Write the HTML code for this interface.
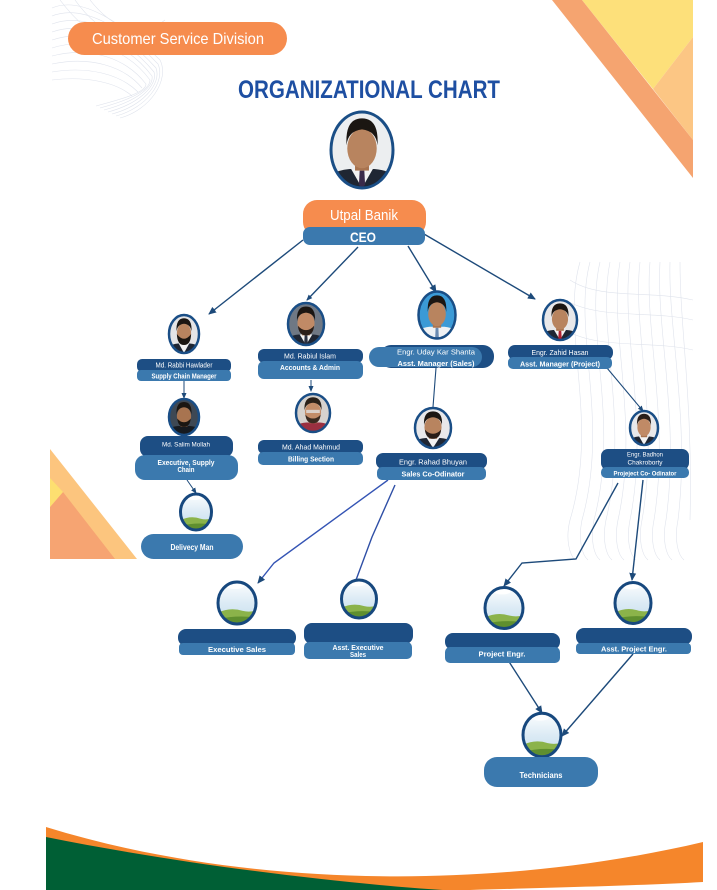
<!DOCTYPE html>
<html><head><meta charset="utf-8"><style>
html,body{margin:0;padding:0;background:#fff;}
body{width:717px;height:890px;overflow:hidden;}
svg{display:block;font-family:"Liberation Sans",Arial,sans-serif;}
</style></head><body>
<svg width="717" height="890" viewBox="0 0 717 890" xmlns="http://www.w3.org/2000/svg">
<defs>
  <clipPath id="pc"><ellipse cx="0" cy="0" rx="20" ry="24"/></clipPath>
  <linearGradient id="sky" x1="0" y1="0" x2="0" y2="1">
    <stop offset="0" stop-color="#ffffff"/><stop offset="0.5" stop-color="#dcebf5"/><stop offset="1" stop-color="#c2dcec"/>
  </linearGradient>
  <marker id="ah" markerUnits="userSpaceOnUse" markerWidth="8" markerHeight="8" refX="7" refY="4" orient="auto">
    <path d="M0,0.5 L8,4 L0,7.5 Z" fill="#1d4a7a"/>
  </marker>
  <marker id="ahs" markerUnits="userSpaceOnUse" markerWidth="6" markerHeight="6" refX="5" refY="3" orient="auto">
    <path d="M0,0.5 L6,3 L0,5.5 Z" fill="#1d4a7a"/>
  </marker>
</defs>

<!-- faint wireframes -->
<g fill="none" stroke="#dfe3ec" stroke-width="0.6">
  <path d="M52,8 C80,-4 120,20 160,60 C170,80 150,110 120,118"/>
  <path d="M52,16 C82,4 122,26 158,64 C166,82 146,108 116,116"/>
  <path d="M52,24 C84,12 124,32 156,68 C162,84 142,106 112,114"/>
  <path d="M52,32 C86,20 126,38 154,72 C158,86 138,104 108,112"/>
  <path d="M52,40 C88,28 128,44 152,76 C154,88 134,102 104,110"/>
  <path d="M52,48 C90,36 128,50 150,80 C150,90 130,100 100,108"/>
  <path d="M52,56 C90,46 126,58 146,84 C146,92 126,98 96,106"/>
  <path d="M52,64 C90,56 124,66 142,88"/>
  <path d="M52,72 C88,66 120,74 138,92"/>
  <path d="M52,80 C86,76 116,82 132,96"/>
  <path d="M60,0 C90,40 130,60 165,40"/>
  <path d="M75,0 C100,35 135,50 165,30"/>
  <path d="M90,0 C112,28 140,40 165,20"/>
  <path d="M580,262 C560,330 600,420 570,520 C565,540 570,555 575,560"/>
  <path d="M590,262 C572,330 610,420 582,520 C578,540 582,555 588,560"/>
  <path d="M600,262 C584,330 620,420 594,520 C590,540 594,555 600,560"/>
  <path d="M610,262 C596,330 630,420 606,520 C602,540 606,555 612,560"/>
  <path d="M620,262 C608,330 640,420 618,520 C614,540 618,555 624,560"/>
  <path d="M630,262 C620,330 650,420 630,520 C626,540 630,555 636,560"/>
  <path d="M640,262 C632,330 660,420 642,520 C638,540 642,555 648,560"/>
  <path d="M650,262 C644,330 670,420 654,520 C650,540 654,555 660,560"/>
  <path d="M660,262 C656,330 680,420 666,520 C662,540 666,555 672,560"/>
  <path d="M670,262 C668,330 690,420 678,520 C674,540 678,555 684,560"/>
  <path d="M680,262 C680,330 693,400 690,520"/>
  <path d="M570,280 C600,300 650,290 693,300"/>
  <path d="M565,300 C600,320 650,310 693,320"/>
  <path d="M565,330 C600,350 650,340 693,350"/>
</g>

<!-- top right decoration -->
<polygon points="582,0 693,0 693,37 653,89" fill="#FDE07A"/>
<polygon points="653,89 693,37 693,140" fill="#FCC684"/>
<polygon points="552,0 582,0 693,140 693,178" fill="#F5A470"/>

<!-- left triangle decoration -->
<polygon points="50,449 137,559 50,559" fill="#FCC57E"/>
<polygon points="50,507 63,492 115,559 50,559" fill="#F6A472"/>
<polygon points="50,478 63,492 50,507" fill="#FDDF70"/>

<!-- bottom wave -->
<path d="M46,827 C250,890 500,890 703,842 L703,890 L46,890 Z" fill="#F5862B"/>
<path d="M470,890 C580,887 650,885 703,882 L703,890 Z" fill="#ffffff"/>
<path d="M46,837 C200,868 380,888 480,892 L46,892 Z" fill="#005F35"/>

<!-- header pill -->
<rect x="68" y="22" width="219" height="33" rx="16.5" fill="#F68C4E"/>
<text x="178" y="44" text-anchor="middle" font-size="16" fill="#fff" textLength="172" lengthAdjust="spacingAndGlyphs">Customer Service Division</text>

<!-- title -->
<text x="369" y="98" text-anchor="middle" font-size="25" font-weight="bold" fill="#1E4FA2" textLength="262" lengthAdjust="spacingAndGlyphs">ORGANIZATIONAL CHART</text>

<!-- connectors -->
<g stroke="#1d4a7a" stroke-width="1.4" fill="none">
  <line x1="303" y1="240" x2="209" y2="314" marker-end="url(#ah)"/>
  <line x1="358" y1="247" x2="307" y2="300" marker-end="url(#ahs)"/>
  <line x1="408" y1="246" x2="436" y2="292" marker-end="url(#ah)"/>
  <line x1="424" y1="234" x2="535" y2="299" marker-end="url(#ah)"/>
  <line x1="184" y1="381" x2="184" y2="398" stroke-width="1" marker-end="url(#ahs)"/>
  <line x1="311" y1="380" x2="311" y2="391" stroke-width="1" marker-end="url(#ahs)"/>
  <line x1="436" y1="368" x2="433" y2="407" stroke-width="1.1"/>
  <line x1="607" y1="368" x2="643" y2="411" stroke-width="1.1" marker-end="url(#ahs)"/>
  <line x1="187" y1="480" x2="196" y2="493" stroke-width="1" marker-end="url(#ahs)"/>
  <polyline points="388,480 274,563 258,583" stroke="#3454b4" marker-end="url(#ah)"/>
  <polyline points="395,485 372,537 356,580" stroke="#2f4fa6"/>
  <polyline points="618,483 576,559 522,563 504,586" marker-end="url(#ah)"/>
  <line x1="643" y1="480" x2="632" y2="580" marker-end="url(#ah)"/>
  <line x1="506" y1="657" x2="542" y2="713" marker-end="url(#ah)"/>
  <line x1="633" y1="654" x2="562" y2="736" marker-end="url(#ah)"/>
</g>

<!-- CEO portrait -->
<g transform="translate(362,150) scale(1.55,1.583)" clip-path="url(#pc)">
  <rect x="-22" y="-26" width="44" height="52" fill="#eceef0"/>
  <path d="M-24,26 L-24,20 Q-20,13 -8,12 L8,12 Q20,13 24,20 L24,26Z" fill="#1f2633"/>
  <path d="M-7,12 L0,24 L7,12Z" fill="#f2f2f2"/>
  <path d="M-1.5,13 L1.5,13 L2,22 L0,24 L-2,22Z" fill="#3a2a4a"/>
  <rect x="-4.5" y="6" width="9" height="7" fill="#a8734f"/>
  <ellipse cx="0" cy="-1" rx="9.5" ry="12.5" fill="#b8845f"/>
  <path d="M-10,-3 Q-11,-20 0,-20 Q11,-20 10,-3 Q9,-12 0,-13 Q-9,-12 -10,-3Z" fill="#1b1612"/>
</g>
<ellipse cx="362" cy="150" rx="31" ry="38" fill="none" stroke="#1a4e86" stroke-width="3"/>

<!-- CEO box -->
<rect x="303" y="200" width="123" height="36" rx="14" fill="#F68C4E"/>
<rect x="303" y="227" width="122" height="18" rx="7" fill="#3B79AE"/>
<text x="364" y="220" text-anchor="middle" font-size="15" fill="#fff" textLength="68" lengthAdjust="spacingAndGlyphs">Utpal Banik</text>
<text x="363" y="242" text-anchor="middle" font-size="14" font-weight="bold" fill="#fff" textLength="26" lengthAdjust="spacingAndGlyphs">CEO</text>

<!-- portraits row -->
<!-- A Rabbi -->
<g transform="translate(184,334) scale(0.75,0.79)" clip-path="url(#pc)">
  <rect x="-22" y="-26" width="44" height="52" fill="#e4e4e6"/>
  <path d="M-24,26 L-24,20 Q-20,13 -8,12 L8,12 Q20,13 24,20 L24,26Z" fill="#1f2633"/>
  <path d="M-7,12 L0,24 L7,12Z" fill="#f2f2f2"/>
  <ellipse cx="0" cy="-1" rx="9.5" ry="12.5" fill="#b8845f"/>
  <path d="M-9.5,0 Q-9,14 0,14 Q9,14 9.5,0 Q5,6 0,6 Q-5,6 -9.5,0Z" fill="#1b1612"/>
  <path d="M-10,-3 Q-11,-20 0,-20 Q11,-20 10,-3 Q9,-12 0,-13 Q-9,-12 -10,-3Z" fill="#1b1612"/>
</g>
<ellipse cx="184" cy="334" rx="15" ry="19" fill="none" stroke="#1a4e86" stroke-width="2.5"/>

<!-- B Rabiul -->
<g transform="translate(306,324) scale(0.9,0.875)" clip-path="url(#pc)">
  <rect x="-22" y="-26" width="44" height="52" fill="#6f7884"/>
  <path d="M-24,26 L-24,20 Q-20,13 -8,12 L8,12 Q20,13 24,20 L24,26Z" fill="#1f2633"/>
  <path d="M-7,12 L0,24 L7,12Z" fill="#f2f2f2"/>
  <path d="M-1.5,13 L1.5,13 L2,22 L0,24 L-2,22Z" fill="#2a3040"/>
  <rect x="-4.5" y="6" width="9" height="7" fill="#a8734f"/>
  <ellipse cx="0" cy="-1" rx="9.5" ry="12.5" fill="#c08a66"/>
  <path d="M-9,2 Q-8,13 0,13 Q8,13 9,2 Q5,7 0,7 Q-5,7 -9,2Z" fill="#2a1e18"/>
  <path d="M-10,-3 Q-11,-20 0,-20 Q11,-20 10,-3 Q9,-12 0,-13 Q-9,-12 -10,-3Z" fill="#1b1612"/>
</g>
<ellipse cx="306" cy="324" rx="18" ry="21" fill="none" stroke="#1a4e86" stroke-width="2.5"/>

<!-- C Salim -->
<g transform="translate(184,417) scale(0.75,0.75)" clip-path="url(#pc)">
  <rect x="-22" y="-26" width="44" height="52" fill="#3e4854"/>
  <path d="M-24,26 L-24,20 Q-20,13 -8,12 L8,12 Q20,13 24,20 L24,26Z" fill="#161a20"/>
  <rect x="-4.5" y="6" width="9" height="7" fill="#8e5f40"/>
  <ellipse cx="0" cy="-1" rx="9.5" ry="12.5" fill="#a87450"/>
  <path d="M-9,2 Q-8,13 0,13 Q8,13 9,2 Q5,7 0,7 Q-5,7 -9,2Z" fill="#1b1612"/>
  <path d="M-10,-3 Q-11,-20 0,-20 Q11,-20 10,-3 Q9,-12 0,-13 Q-9,-12 -10,-3Z" fill="#1b1612"/>
</g>
<ellipse cx="184" cy="417" rx="15" ry="18" fill="none" stroke="#1a4e86" stroke-width="2.5"/>

<!-- D Ahad -->
<g transform="translate(313,413) scale(0.85,0.79)" clip-path="url(#pc)">
  <rect x="-22" y="-26" width="44" height="52" fill="#d6d2ce"/>
  <path d="M-24,26 L-24,20 Q-20,13 -8,12 L8,12 Q20,13 24,20 L24,26Z" fill="#9a3040"/>
  <rect x="-4.5" y="6" width="9" height="7" fill="#a8734f"/>
  <ellipse cx="0" cy="-1" rx="9.5" ry="12.5" fill="#c28c68"/>
  <rect x="-8" y="-4" width="16" height="4" fill="#e0e0e0" opacity="0.8"/>
  <path d="M-9,2 Q-8,13 0,13 Q8,13 9,2 Q5,7 0,7 Q-5,7 -9,2Z" fill="#3a2a20"/>
  <path d="M-10,-3 Q-11,-20 0,-20 Q11,-20 10,-3 Q9,-12 0,-13 Q-9,-12 -10,-3Z" fill="#2a2018"/>
</g>
<ellipse cx="313" cy="413" rx="17" ry="19" fill="none" stroke="#1a4e86" stroke-width="2.5"/>

<!-- E Uday -->
<g transform="translate(437,315) scale(0.925,0.98)" clip-path="url(#pc)">
  <rect x="-22" y="-26" width="44" height="52" fill="#3b9ad6"/>
  <path d="M-24,26 L-24,20 Q-20,13 -8,12 L8,12 Q20,13 24,20 L24,26Z" fill="#eef1f4"/>
  <path d="M-1.5,13 L1.5,13 L2,24 L0,26 L-2,24Z" fill="#6a8ab0"/>
  <rect x="-4.5" y="6" width="9" height="7" fill="#a8734f"/>
  <ellipse cx="0" cy="-1" rx="9.5" ry="12.5" fill="#b8845f"/>
  <path d="M-10,-3 Q-11,-20 0,-20 Q11,-20 10,-3 Q9,-12 0,-13 Q-9,-12 -10,-3Z" fill="#1b1612"/>
</g>
<ellipse cx="437" cy="315" rx="18.5" ry="23.5" fill="none" stroke="#1a4e86" stroke-width="2.5"/>

<!-- F Rahad -->
<g transform="translate(433,428) scale(0.9,0.83)" clip-path="url(#pc)">
  <rect x="-22" y="-26" width="44" height="52" fill="#e8e8ea"/>
  <path d="M-24,26 L-24,20 Q-20,13 -8,12 L8,12 Q20,13 24,20 L24,26Z" fill="#1f2633"/>
  <path d="M-7,12 L0,24 L7,12Z" fill="#f2f2f2"/>
  <rect x="-4.5" y="6" width="9" height="7" fill="#a8734f"/>
  <ellipse cx="0" cy="-1" rx="9.5" ry="12.5" fill="#b8845f"/>
  <path d="M-9,2 Q-8,13 0,13 Q8,13 9,2 Q5,7 0,7 Q-5,7 -9,2Z" fill="#2a1e18"/>
  <path d="M-10,-3 Q-11,-20 0,-20 Q11,-20 10,-3 Q9,-12 0,-13 Q-9,-12 -10,-3Z" fill="#1b1612"/>
</g>
<ellipse cx="433" cy="428" rx="18" ry="20" fill="none" stroke="#1a4e86" stroke-width="2.5"/>

<!-- G Zahid -->
<g transform="translate(560,320) scale(0.85,0.83)" clip-path="url(#pc)">
  <rect x="-22" y="-26" width="44" height="52" fill="#e8e8ea"/>
  <path d="M-24,26 L-24,20 Q-20,13 -8,12 L8,12 Q20,13 24,20 L24,26Z" fill="#1f2633"/>
  <path d="M-7,12 L0,24 L7,12Z" fill="#f2f2f2"/>
  <path d="M-1.5,13 L1.5,13 L2,22 L0,24 L-2,22Z" fill="#b02030"/>
  <rect x="-4.5" y="6" width="9" height="7" fill="#a8734f"/>
  <ellipse cx="0" cy="-1" rx="9.5" ry="12.5" fill="#b8845f"/>
  <path d="M-10,-3 Q-11,-20 0,-20 Q11,-20 10,-3 Q9,-12 0,-13 Q-9,-12 -10,-3Z" fill="#1b1612"/>
</g>
<ellipse cx="560" cy="320" rx="17" ry="20" fill="none" stroke="#1a4e86" stroke-width="2.5"/>

<!-- H Badhon -->
<g transform="translate(644,428) scale(0.7,0.71)" clip-path="url(#pc)">
  <rect x="-22" y="-26" width="44" height="52" fill="#e8e8ea"/>
  <path d="M-24,26 L-24,20 Q-20,13 -8,12 L8,12 Q20,13 24,20 L24,26Z" fill="#1f2633"/>
  <path d="M-7,12 L0,24 L7,12Z" fill="#f2f2f2"/>
  <rect x="-4.5" y="6" width="9" height="7" fill="#a8734f"/>
  <ellipse cx="0" cy="-1" rx="9.5" ry="12.5" fill="#c08a66"/>
  <path d="M-10,-3 Q-11,-20 0,-20 Q11,-20 10,-3 Q9,-12 0,-13 Q-9,-12 -10,-3Z" fill="#2a1e18"/>
</g>
<ellipse cx="644" cy="428" rx="14" ry="17" fill="none" stroke="#1a4e86" stroke-width="2.5"/>

<!-- placeholders -->
<g id="ph1" transform="translate(196,512) scale(0.775,0.75)" clip-path="url(#pc)">
  <rect x="-22" y="-26" width="44" height="52" fill="url(#sky)"/>
  <ellipse cx="-2" cy="-19" rx="9" ry="3" fill="#fff"/>
  <path d="M-22,12 Q-8,4 6,9 Q14,11 22,8 L22,26 L-22,26Z" fill="#8bb34a"/>
  <path d="M-22,19 Q0,13 22,17 L22,26 L-22,26Z" fill="#5f8f2f"/>
</g>
<ellipse cx="196" cy="512" rx="15.5" ry="18" fill="none" stroke="#17487e" stroke-width="3"/>

<g transform="translate(237,603) scale(0.95,0.875)" clip-path="url(#pc)">
  <rect x="-22" y="-26" width="44" height="52" fill="url(#sky)"/>
  <ellipse cx="-2" cy="-19" rx="9" ry="3" fill="#fff"/>
  <path d="M-22,12 Q-8,4 6,9 Q14,11 22,8 L22,26 L-22,26Z" fill="#8bb34a"/>
  <path d="M-22,19 Q0,13 22,17 L22,26 L-22,26Z" fill="#5f8f2f"/>
</g>
<ellipse cx="237" cy="603" rx="19" ry="21" fill="none" stroke="#17487e" stroke-width="3"/>

<g transform="translate(359,599) scale(0.875,0.79)" clip-path="url(#pc)">
  <rect x="-22" y="-26" width="44" height="52" fill="url(#sky)"/>
  <ellipse cx="-2" cy="-19" rx="9" ry="3" fill="#fff"/>
  <path d="M-22,12 Q-8,4 6,9 Q14,11 22,8 L22,26 L-22,26Z" fill="#8bb34a"/>
  <path d="M-22,19 Q0,13 22,17 L22,26 L-22,26Z" fill="#5f8f2f"/>
</g>
<ellipse cx="359" cy="599" rx="17.5" ry="19" fill="none" stroke="#17487e" stroke-width="3"/>

<g transform="translate(504,608) scale(0.95,0.854)" clip-path="url(#pc)">
  <rect x="-22" y="-26" width="44" height="52" fill="url(#sky)"/>
  <ellipse cx="-2" cy="-19" rx="9" ry="3" fill="#fff"/>
  <path d="M-22,12 Q-8,4 6,9 Q14,11 22,8 L22,26 L-22,26Z" fill="#8bb34a"/>
  <path d="M-22,19 Q0,13 22,17 L22,26 L-22,26Z" fill="#5f8f2f"/>
</g>
<ellipse cx="504" cy="608" rx="19" ry="20.5" fill="none" stroke="#17487e" stroke-width="3"/>

<g transform="translate(633,603) scale(0.9,0.854)" clip-path="url(#pc)">
  <rect x="-22" y="-26" width="44" height="52" fill="url(#sky)"/>
  <ellipse cx="-2" cy="-19" rx="9" ry="3" fill="#fff"/>
  <path d="M-22,12 Q-8,4 6,9 Q14,11 22,8 L22,26 L-22,26Z" fill="#8bb34a"/>
  <path d="M-22,19 Q0,13 22,17 L22,26 L-22,26Z" fill="#5f8f2f"/>
</g>
<ellipse cx="633" cy="603" rx="18" ry="20.5" fill="none" stroke="#17487e" stroke-width="3"/>

<g transform="translate(542,735) scale(0.95,0.904)" clip-path="url(#pc)">
  <rect x="-22" y="-26" width="44" height="52" fill="url(#sky)"/>
  <ellipse cx="-2" cy="-19" rx="9" ry="3" fill="#fff"/>
  <path d="M-22,12 Q-8,4 6,9 Q14,11 22,8 L22,26 L-22,26Z" fill="#8bb34a"/>
  <path d="M-22,19 Q0,13 22,17 L22,26 L-22,26Z" fill="#5f8f2f"/>
</g>
<ellipse cx="542" cy="735" rx="19" ry="21.7" fill="none" stroke="#17487e" stroke-width="3"/>

<!-- label boxes -->
<g>
  <!-- A Rabbi -->
  <rect x="137" y="359" width="94" height="13" rx="5" fill="#1D4E84"/>
  <rect x="137" y="370" width="94" height="11" rx="4" fill="#3B79AE"/>
  <!-- B Rabiul -->
  <rect x="258" y="349" width="105" height="14" rx="6" fill="#1D4E84"/>
  <rect x="258" y="361" width="105" height="18" rx="6" fill="#3B79AE"/>
  <!-- C Salim -->
  <rect x="140" y="436" width="93" height="21" rx="8" fill="#1D4E84"/>
  <rect x="135" y="455" width="103" height="25" rx="10" fill="#3B79AE"/>
  <!-- K Delivery -->
  <rect x="141" y="534" width="102" height="25" rx="12.5" fill="#3B79AE"/>
  <!-- D Ahad -->
  <rect x="258" y="440" width="105" height="14" rx="6" fill="#1D4E84"/>
  <rect x="258" y="452" width="105" height="13" rx="5" fill="#3B79AE"/>
  <!-- E Uday -->
  <rect x="380" y="345" width="114" height="23" rx="11" fill="#1D4E84"/>
  <rect x="369" y="347" width="113" height="20" rx="10" fill="#3B79AE"/>
  <!-- F Rahad -->
  <rect x="376" y="453" width="111" height="16" rx="7" fill="#1D4E84"/>
  <rect x="377" y="467" width="109" height="13" rx="5" fill="#3B79AE"/>
  <!-- G Zahid -->
  <rect x="508" y="345" width="105" height="15" rx="7" fill="#1D4E84"/>
  <rect x="508" y="357" width="104" height="12" rx="5" fill="#3B79AE"/>
  <!-- H Badhon -->
  <rect x="601" y="449" width="88" height="21" rx="7" fill="#1D4E84"/>
  <rect x="601" y="467" width="88" height="11" rx="5" fill="#3B79AE"/>
  <!-- I Exec Sales -->
  <rect x="178" y="629" width="118" height="17" rx="8" fill="#1D4E84"/>
  <rect x="179" y="643" width="116" height="12" rx="4" fill="#3B79AE"/>
  <!-- J Asst Exec -->
  <rect x="304" y="623" width="109" height="21" rx="8" fill="#1D4E84"/>
  <rect x="304" y="642" width="108" height="17" rx="5" fill="#3B79AE"/>
  <!-- L Project Engr -->
  <rect x="445" y="633" width="115" height="17" rx="8" fill="#1D4E84"/>
  <rect x="445" y="647" width="115" height="16" rx="5" fill="#3B79AE"/>
  <!-- M Asst Project Engr -->
  <rect x="576" y="628" width="116" height="17" rx="8" fill="#1D4E84"/>
  <rect x="576" y="643" width="115" height="11" rx="4" fill="#3B79AE"/>
  <!-- N Technicians -->
  <rect x="484" y="757" width="114" height="30" rx="13" fill="#3B79AE"/>
</g>

<!-- label texts -->
<g fill="#fff" text-anchor="middle" lengthAdjust="spacingAndGlyphs">
  <text x="184" y="367.5" font-size="7" textLength="57" lengthAdjust="spacingAndGlyphs">Md. Rabbi Hawlader</text>
  <text x="184" y="378.5" font-size="7" font-weight="bold" textLength="65" lengthAdjust="spacingAndGlyphs">Supply Chain Manager</text>

  <text x="310" y="358.5" font-size="7.5" textLength="52" lengthAdjust="spacingAndGlyphs">Md. Rabiul Islam</text>
  <text x="310" y="370" font-size="7" font-weight="bold" textLength="60" lengthAdjust="spacingAndGlyphs">Accounts &amp; Admin</text>

  <text x="186" y="446.5" font-size="6.5" textLength="48" lengthAdjust="spacingAndGlyphs">Md. Salim Mollah</text>
  <text x="186" y="465" font-size="7" font-weight="bold" textLength="57" lengthAdjust="spacingAndGlyphs">Executive, Supply</text>
  <text x="186" y="472" font-size="7" font-weight="bold" textLength="17" lengthAdjust="spacingAndGlyphs">Chain</text>

  <text x="192" y="550" font-size="8" font-weight="bold" textLength="43" lengthAdjust="spacingAndGlyphs">Delivecy Man</text>

  <text x="311" y="449.5" font-size="7.5" textLength="58" lengthAdjust="spacingAndGlyphs">Md. Ahad Mahmud</text>
  <text x="311" y="461.5" font-size="7" font-weight="bold" textLength="46" lengthAdjust="spacingAndGlyphs">Billing Section</text>

  <text x="436" y="354.5" font-size="7.5" textLength="78" lengthAdjust="spacingAndGlyphs">Engr. Uday Kar Shanta</text>
  <text x="436" y="366" font-size="7.5" font-weight="bold" textLength="77" lengthAdjust="spacingAndGlyphs">Asst. Manager (Sales)</text>

  <text x="433" y="464.5" font-size="7.5" textLength="68" lengthAdjust="spacingAndGlyphs">Engr. Rahad Bhuyan</text>
  <text x="433" y="476.5" font-size="7.5" font-weight="bold" textLength="63" lengthAdjust="spacingAndGlyphs">Sales Co-Odinator</text>

  <text x="560" y="355" font-size="7.5" textLength="57" lengthAdjust="spacingAndGlyphs">Engr. Zahid Hasan</text>
  <text x="560" y="366.5" font-size="7.5" font-weight="bold" textLength="80" lengthAdjust="spacingAndGlyphs">Asst. Manager (Project)</text>

  <text x="645" y="456.5" font-size="6.5" textLength="36" lengthAdjust="spacingAndGlyphs">Engr. Badhon</text>
  <text x="645" y="464.5" font-size="6.5" textLength="35" lengthAdjust="spacingAndGlyphs">Chakroborty</text>
  <text x="645" y="475.5" font-size="6" font-weight="bold" textLength="63" lengthAdjust="spacingAndGlyphs">Projeject Co- Odinator</text>

  <text x="237" y="652" font-size="7.5" font-weight="bold" textLength="58" lengthAdjust="spacingAndGlyphs">Executive Sales</text>

  <text x="358" y="650" font-size="7" font-weight="bold" textLength="51" lengthAdjust="spacingAndGlyphs">Asst. Executive</text>
  <text x="358" y="657" font-size="7" font-weight="bold" textLength="16" lengthAdjust="spacingAndGlyphs">Sales</text>

  <text x="502" y="656.5" font-size="7.5" font-weight="bold" textLength="47" lengthAdjust="spacingAndGlyphs">Project Engr.</text>
  <text x="634" y="651.5" font-size="7.5" font-weight="bold" textLength="66" lengthAdjust="spacingAndGlyphs">Asst. Project Engr.</text>

  <text x="541" y="778" font-size="8" font-weight="bold" textLength="43" lengthAdjust="spacingAndGlyphs">Technicians</text>
</g>
</svg>
</body></html>
